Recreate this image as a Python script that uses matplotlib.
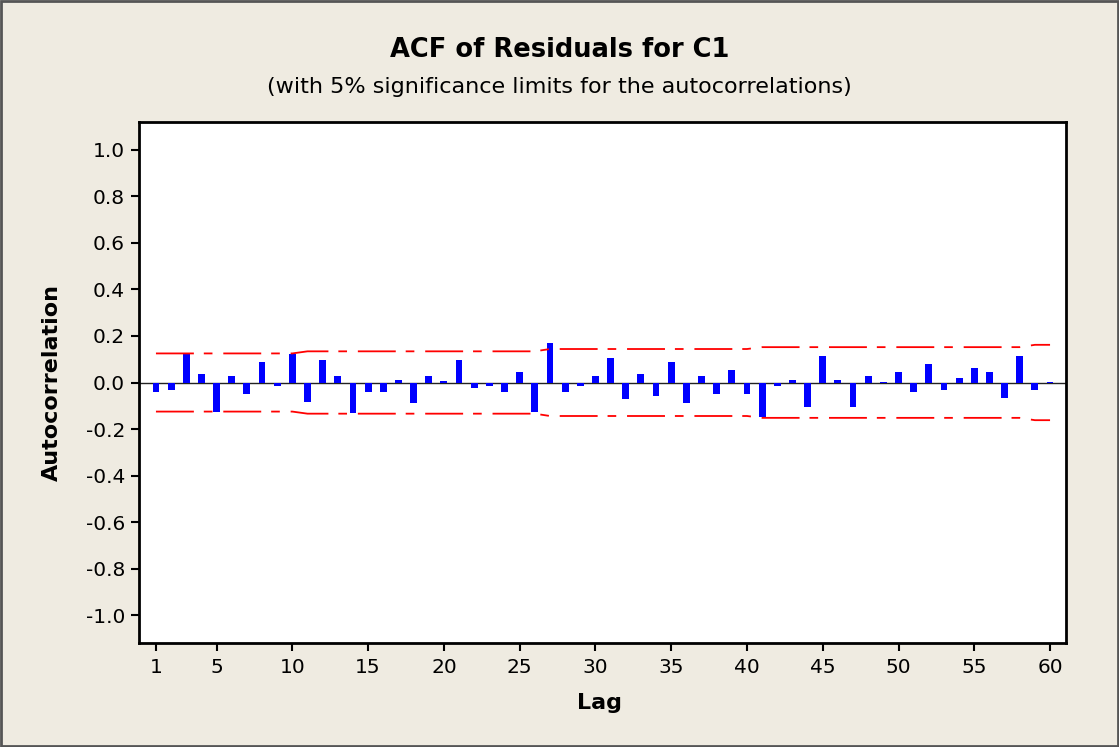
import matplotlib
matplotlib.use("Agg")
import matplotlib.pyplot as plt
from matplotlib.patches import Rectangle

# ACF of residuals, lags 1..60
lags = list(range(1, 61))
acf = [-0.039, -0.032, 0.124, 0.037, -0.125, 0.029, -0.049, 0.088, -0.014, 0.124,
       -0.082, 0.095, 0.029, -0.133, -0.040, -0.040, 0.012, -0.089, 0.029, 0.005,
       0.095, -0.022, -0.014, -0.039, 0.045, -0.126, 0.170, -0.039, -0.014, 0.029,
       0.104, -0.072, 0.037, -0.056, 0.087, -0.089, 0.029, -0.049, 0.053, -0.049,
       -0.150, -0.014, 0.012, -0.107, 0.113, 0.012, -0.107, 0.029, 0.003, 0.045,
       -0.039, 0.079, -0.032, 0.019, 0.062, 0.045, -0.065, 0.113, -0.032, 0.003]

# 5% significance limits per lag
limit = [0.125] * 10 + [0.134] * 16 + [0.144] * 14 + [0.152] * 18 + [0.162] * 2
upper = limit
lower = [-v for v in limit]

xticks = [1, 5, 10, 15, 20, 25, 30, 35, 40, 45, 50, 55, 60]
yticks = [1.0, 0.8, 0.6, 0.4, 0.2, 0.0, -0.2, -0.4, -0.6, -0.8, -1.0]

bg = "#efebe1"

fig = plt.figure(figsize=(11.19, 7.47), dpi=100, facecolor=bg)
ax = fig.add_axes([0.1242, 0.1392, 0.8284, 0.6975])
ax.set_facecolor("white")

ax.bar(lags, acf, width=0.45, color="#0000ff", zorder=3)
ax.axhline(0, color="#222222", lw=1.0, zorder=2)

dash = (0, (21, 5.5, 4.8, 6))
ax.plot(lags, upper, color="red", lw=1.3, linestyle=dash, zorder=4)
ax.plot(lags, lower, color="red", lw=1.3, linestyle=dash, zorder=4)

ax.set_xlim(-0.12, 61.05)
ax.set_ylim(-1.12, 1.12)
ax.set_xticks(xticks)
ax.set_yticks(yticks)
ax.set_yticklabels([f"{v:.1f}" for v in yticks])

for s in ax.spines.values():
    s.set_linewidth(2.0)
    s.set_color("black")
ax.tick_params(axis="both", direction="out", length=6, width=1.5, labelsize=14.5, colors="black")
ax.tick_params(axis="x", pad=5)
ax.tick_params(axis="y", pad=4)

fig.text(0.5, 0.933, "ACF of Residuals for C1", ha="center", va="center",
         fontsize=18.5, fontweight="bold")
fig.text(0.5, 0.8835, "(with 5% significance limits for the autocorrelations)",
         ha="center", va="center", fontsize=16)
fig.text(0.0465, 0.4886, "Autocorrelation", rotation=90, ha="center", va="center",
         fontsize=16, fontweight="bold")
fig.text(0.536, 0.059, "Lag", ha="center", va="center", fontsize=16, fontweight="bold")

# outer border
fig.patches.append(Rectangle((0.001, 0.002), 0.998, 0.996, transform=fig.transFigure,
                             fill=False, edgecolor="#555555", lw=2))

fig.savefig("out.png", dpi=100, facecolor=bg)
